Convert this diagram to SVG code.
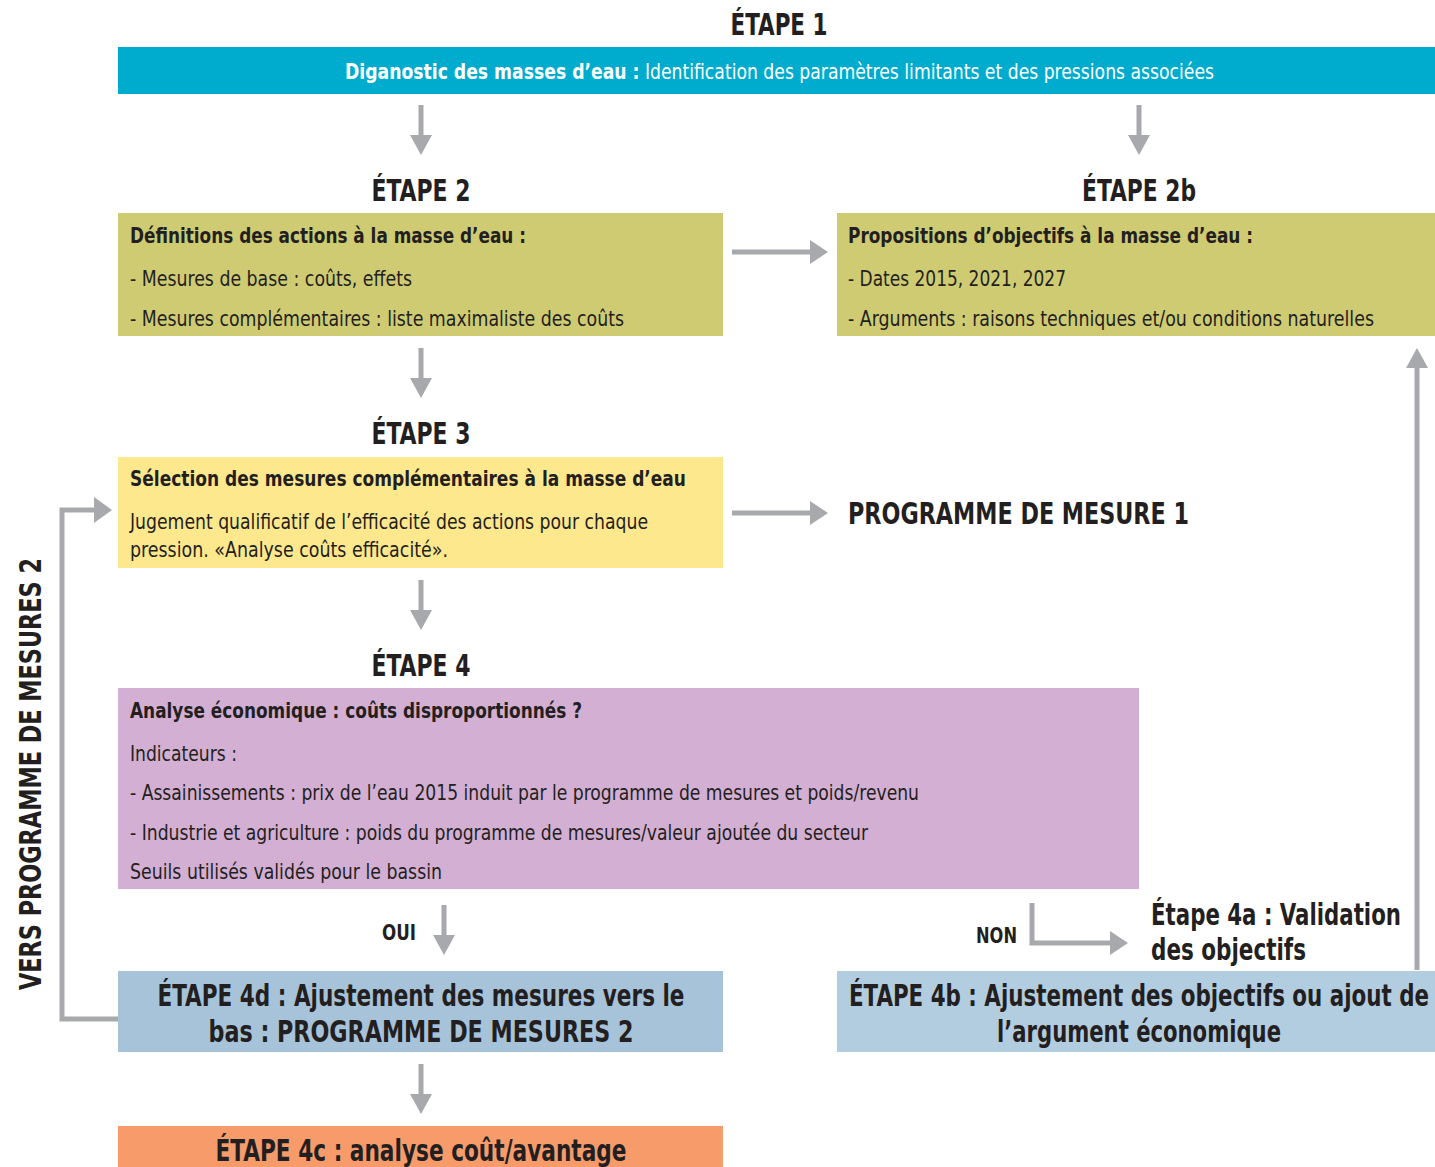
<svg xmlns="http://www.w3.org/2000/svg" width="1435" height="1167" viewBox="0 0 1435 1167">
<defs>
<style>
text{font-family:"Liberation Sans Narrow","DejaVu Sans Condensed","Liberation Sans",sans-serif;font-stretch:condensed;fill:#231F20}
.h{font-size:30px;font-weight:bold}
.t{font-size:21px;font-weight:bold}
.r{font-size:21px}
.c{text-anchor:middle}
.ln{stroke:#A7A9AC;stroke-width:5;fill:none}
.ah{fill:#A7A9AC}
</style>
</defs>
<rect width="1435" height="1167" fill="#fff"/>
<g id="etape1">
<text class="h c" x="779" y="35" textLength="97" lengthAdjust="spacingAndGlyphs">ÉTAPE 1</text>
<rect x="118" y="47" width="1317" height="47" fill="#00ACCD"/>
<text class="r" x="345" y="79" style="fill:#fff" textLength="869" lengthAdjust="spacingAndGlyphs"><tspan font-weight="bold">Diganostic des masses d’eau :</tspan> Identification des paramètres limitants et des pressions associées</text>
</g>
<g id="etape2">
<text class="h c" x="421" y="201" textLength="99" lengthAdjust="spacingAndGlyphs">ÉTAPE 2</text>
<rect x="118" y="213" width="605" height="123" fill="#CFCB73"/>
<text class="t" x="130" y="243" textLength="396" lengthAdjust="spacingAndGlyphs">Définitions des actions à la masse d’eau :</text>
<text class="r" x="130" y="286" textLength="282" lengthAdjust="spacingAndGlyphs">- Mesures de base : coûts, effets</text>
<text class="r" x="130" y="326" textLength="494" lengthAdjust="spacingAndGlyphs">- Mesures complémentaires : liste maximaliste des coûts</text>
</g>
<g id="etape2b">
<text class="h c" x="1139" y="201" textLength="114" lengthAdjust="spacingAndGlyphs">ÉTAPE 2b</text>
<rect x="837" y="213" width="598" height="123" fill="#CFCB73"/>
<text class="t" x="848" y="243" textLength="405" lengthAdjust="spacingAndGlyphs">Propositions d’objectifs à la masse d’eau :</text>
<text class="r" x="848" y="286" textLength="218" lengthAdjust="spacingAndGlyphs">- Dates 2015, 2021, 2027</text>
<text class="r" x="848" y="326" textLength="526" lengthAdjust="spacingAndGlyphs">- Arguments : raisons techniques et/ou conditions naturelles</text>
</g>
<g id="etape3">
<text class="h c" x="421" y="444" textLength="99" lengthAdjust="spacingAndGlyphs">ÉTAPE 3</text>
<rect x="118" y="457" width="605" height="111" fill="#FEE88E"/>
<text class="t" x="130" y="486" textLength="556" lengthAdjust="spacingAndGlyphs">Sélection des mesures complémentaires à la masse d’eau</text>
<text class="r" x="130" y="529" textLength="518" lengthAdjust="spacingAndGlyphs">Jugement qualificatif de l’efficacité des actions pour chaque</text>
<text class="r" x="130" y="557" textLength="318" lengthAdjust="spacingAndGlyphs">pression. «Analyse coûts efficacité».</text>
</g>
<g id="programme1">
<text class="h" x="848" y="524" textLength="341" lengthAdjust="spacingAndGlyphs">PROGRAMME DE MESURE 1</text>
</g>
<g id="etape4">
<text class="h c" x="421" y="676" textLength="99" lengthAdjust="spacingAndGlyphs">ÉTAPE 4</text>
<rect x="118" y="688" width="1021" height="201" fill="#D3AFD3"/>
<text class="t" x="130" y="718" textLength="452" lengthAdjust="spacingAndGlyphs">Analyse économique : coûts disproportionnés ?</text>
<text class="r" x="130" y="761" textLength="107" lengthAdjust="spacingAndGlyphs">Indicateurs :</text>
<text class="r" x="130" y="800" textLength="789" lengthAdjust="spacingAndGlyphs">- Assainissements : prix de l’eau 2015 induit par le programme de mesures et poids/revenu</text>
<text class="r" x="130" y="840" textLength="738" lengthAdjust="spacingAndGlyphs">- Industrie et agriculture : poids du programme de mesures/valeur ajoutée du secteur</text>
<text class="r" x="130" y="879" textLength="312" lengthAdjust="spacingAndGlyphs">Seuils utilisés validés pour le bassin</text>
</g>
<g id="etape4d">
<rect x="118" y="971" width="605" height="81" fill="#A6C3DA"/>
<text class="h c" x="421" y="1006" textLength="527" lengthAdjust="spacingAndGlyphs">ÉTAPE 4d : Ajustement des mesures vers le</text>
<text class="h c" x="421" y="1042" textLength="425" lengthAdjust="spacingAndGlyphs">bas : PROGRAMME DE MESURES 2</text>
</g>
<g id="etape4b">
<rect x="837" y="971" width="598" height="81" fill="#B3CDE0"/>
<text class="h c" x="1139" y="1006" textLength="580" lengthAdjust="spacingAndGlyphs">ÉTAPE 4b : Ajustement des objectifs ou ajout de</text>
<text class="h c" x="1139" y="1042" textLength="284" lengthAdjust="spacingAndGlyphs">l’argument économique</text>
</g>
<g id="etape4a">
<text class="h" x="1151" y="925" textLength="250" lengthAdjust="spacingAndGlyphs">Étape 4a : Validation</text>
<text class="h" x="1151" y="960" textLength="155" lengthAdjust="spacingAndGlyphs">des objectifs</text>
</g>
<g id="etape4c">
<rect x="118" y="1126" width="605" height="41" fill="#F79B6B"/>
<text class="h c" x="421" y="1161" textLength="411" lengthAdjust="spacingAndGlyphs">ÉTAPE 4c : analyse coût/avantage</text>
</g>
<g id="vers2">
<text class="h c" transform="translate(41,774) rotate(-90)" textLength="432" lengthAdjust="spacingAndGlyphs">VERS PROGRAMME DE MESURES 2</text>
</g>
<g id="connectors">
<line class="ln" x1="421" y1="105" x2="421" y2="137"/><polygon class="ah" points="410,135 432,135 421,155"/>
<line class="ln" x1="1139" y1="105" x2="1139" y2="137"/><polygon class="ah" points="1128,135 1150,135 1139,155"/>
<line class="ln" x1="732" y1="252" x2="812" y2="252"/><polygon class="ah" points="810,240 810,264 828,252"/>
<line class="ln" x1="421" y1="348" x2="421" y2="380"/><polygon class="ah" points="410,378 432,378 421,398"/>
<line class="ln" x1="732" y1="513" x2="812" y2="513"/><polygon class="ah" points="810,501 810,525 828,513"/>
<line class="ln" x1="421" y1="580" x2="421" y2="612"/><polygon class="ah" points="410,610 432,610 421,630"/>
<text style="font-size:22px;font-weight:bold" x="382" y="940" textLength="34" lengthAdjust="spacingAndGlyphs">OUI</text>
<line class="ln" x1="444" y1="905" x2="444" y2="937"/><polygon class="ah" points="433,935 455,935 444,955"/>
<text style="font-size:22px;font-weight:bold" x="976" y="943" textLength="41" lengthAdjust="spacingAndGlyphs">NON</text>
<polyline class="ln" points="1032,903 1032,943 1112,943"/><polygon class="ah" points="1110,931 1110,955 1128,943"/>
<line class="ln" x1="1417" y1="970" x2="1417" y2="366"/><polygon class="ah" points="1406,368 1428,368 1417,348"/>
<polyline class="ln" points="118,1019 62,1019 62,510 96,510"/><polygon class="ah" points="94,497 94,523 112,510"/>
<line class="ln" x1="421" y1="1064" x2="421" y2="1096"/><polygon class="ah" points="410,1094 432,1094 421,1114"/>
</g>
</svg>
